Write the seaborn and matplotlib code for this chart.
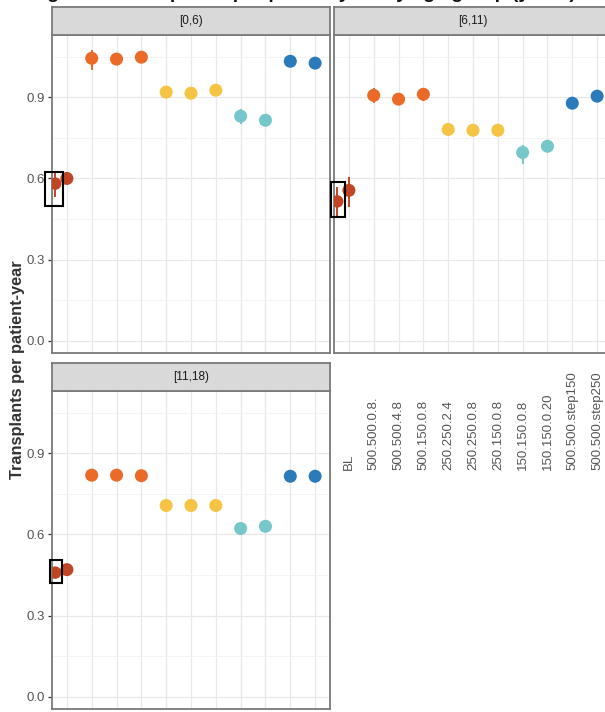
import numpy as np
import pandas as pd
import matplotlib
matplotlib.use("Agg")
import matplotlib.pyplot as plt
from matplotlib.patches import Rectangle
import seaborn as sns

# ---- data -------------------------------------------------------------
scenarios = ["BL", "500.500.0.8.", "500.500.4.8", "500.150.0.8", "250.250.2.4",
             "250.250.0.8", "250.150.0.8", "150.150.0.8", "150.150.0.20",
             "500.500.step150", "500.500.step250"]
scenario_group = ["BL", "A", "A", "A", "B", "B", "B", "C", "C", "D", "D"]
age_groups = ["[0,6)", "[6,11)", "[11,18)"]

rate_0_6 = [0.600, 1.044, 1.041, 1.048, 0.919, 0.915, 0.926, 0.830, 0.815, 1.033, 1.026]
lo_0_6 = [0.580, 1.000, 1.030, 1.035, 0.905, 0.900, 0.905, 0.800, 0.800, 1.025, 1.018]
hi_0_6 = [0.620, 1.075, 1.055, 1.060, 0.930, 0.930, 0.945, 0.855, 0.830, 1.040, 1.034]

rate_6_11 = [0.556, 0.907, 0.893, 0.911, 0.781, 0.778, 0.778, 0.696, 0.719, 0.878, 0.904]
lo_6_11 = [0.493, 0.880, 0.870, 0.885, 0.765, 0.755, 0.760, 0.655, 0.700, 0.870, 0.895]
hi_6_11 = [0.607, 0.935, 0.915, 0.930, 0.800, 0.800, 0.800, 0.725, 0.740, 0.890, 0.915]

rate_11_18 = [0.470, 0.819, 0.819, 0.817, 0.707, 0.707, 0.707, 0.622, 0.630, 0.815, 0.815]
lo_11_18 = [0.460, 0.810, 0.810, 0.808, 0.698, 0.698, 0.698, 0.612, 0.620, 0.806, 0.806]
hi_11_18 = [0.480, 0.828, 0.828, 0.826, 0.716, 0.716, 0.716, 0.632, 0.640, 0.824, 0.824]

# observed baseline rate per age group (drawn just left of BL)
observed_rate = [0.581, 0.515, 0.459]
observed_lo = [0.530, 0.463, 0.445]
observed_hi = [0.620, 0.570, 0.475]

palette = {"BL": "#BF4524", "A": "#EC6A27", "B": "#F6C445",
           "C": "#76C7CA", "D": "#2B7BBA"}
observed_color = "#BF4524"

panel_rates = [rate_0_6, rate_6_11, rate_11_18]
panel_lo = [lo_0_6, lo_6_11, lo_11_18]
panel_hi = [hi_0_6, hi_6_11, hi_11_18]

frames = []
for g, r, lo, hi in zip(age_groups, panel_rates, panel_lo, panel_hi):
    frames.append(pd.DataFrame({"age": g, "scenario": scenarios,
                                "group": scenario_group,
                                "pos": np.arange(len(scenarios)),
                                "rate": r, "lo": lo, "hi": hi}))
df = pd.concat(frames, ignore_index=True)

obs = pd.DataFrame({"age": age_groups, "pos": -0.47, "rate": observed_rate,
                    "lo": observed_lo, "hi": observed_hi})

# ---- layout -------------------------------------------------------------
sns.set_theme(style="white")
plt.rcParams["font.family"] = ["Liberation Sans", "DejaVu Sans"]

W, H = 605, 712
fig = plt.figure(figsize=(W / 100, H / 100), dpi=100)
fig.patch.set_facecolor("white")


def px_axes(x0, y0, x1, y1):
    return fig.add_axes([x0 / W, 1 - y1 / H, (x1 - x0) / W, (y1 - y0) / H])


panel_px = [(52, 35, 330, 353), (334, 35, 612, 353), (52, 391, 330, 709)]
strip_px = [(52, 7, 330, 35), (334, 7, 612, 35), (52, 363, 330, 391)]
box_coords = [(-0.88, 0.500, 0.72, 0.122),
              (-0.72, 0.459, 0.56, 0.126),
              (-0.68, 0.419, 0.48, 0.085)]

border = "#7A7A7A"
for i, age in enumerate(age_groups):
    ax = px_axes(*panel_px[i])
    sub = df[df["age"] == age]
    o = obs[obs["age"] == age]

    ax.vlines(sub["pos"], sub["lo"], sub["hi"],
              colors=[palette[g] for g in sub["group"]], lw=1.4, zorder=2)
    ax.vlines(o["pos"], o["lo"], o["hi"], colors=observed_color, lw=1.4, zorder=2)
    sns.scatterplot(data=sub, x="pos", y="rate", hue="group", palette=palette,
                    s=88, edgecolor="none", legend=False, ax=ax, zorder=3)
    sns.scatterplot(data=o, x="pos", y="rate", color=observed_color,
                    s=80, edgecolor="none", legend=False, ax=ax, zorder=3)

    bx, by, bw, bh = box_coords[i]
    ax.add_patch(Rectangle((bx, by), bw, bh, fill=False, ec="black", lw=1.5,
                           clip_on=False, zorder=5))

    ax.set_xlim(-0.6, len(scenarios) - 0.4)
    ax.set_ylim(-0.045, 1.13)
    ax.set_xticks(range(len(scenarios)))
    ax.set_yticks([0.0, 0.3, 0.6, 0.9])
    ax.set_yticks([0.15, 0.45, 0.75, 1.05], minor=True)
    ax.grid(True, which="major", color="#E8E8E8", lw=0.9)
    ax.grid(True, which="minor", axis="y", color="#F2F2F2", lw=0.6)
    ax.set_axisbelow(True)
    ax.set_xlabel("")
    ax.set_ylabel("")
    for sp in ax.spines.values():
        sp.set_color(border)
        sp.set_linewidth(1.3)

    ax.tick_params(axis="y", which="major", length=3, width=0.9, color="#333333",
                   labelsize=9.5, labelcolor="#555555", pad=2, left=(i != 1),
                   labelleft=(i != 1))
    ax.tick_params(axis="y", which="minor", length=0)
    if i == 0:
        ax.tick_params(axis="x", length=0, labelbottom=False)
    elif i == 1:
        ax.set_xticklabels(scenarios, rotation=90, va="bottom", ha="center")
        ax.tick_params(axis="x", length=3, width=0.9, color="#333333",
                       labelsize=9.5, labelcolor="#555555", pad=81)
    else:
        ax.tick_params(axis="x", length=3, width=0.9, color="#333333",
                       labelbottom=False)

    sx = px_axes(*strip_px[i])
    sx.set_facecolor("#D9D9D9")
    sx.set_xticks([])
    sx.set_yticks([])
    for sp in sx.spines.values():
        sp.set_color(border)
        sp.set_linewidth(1.3)
    sx.text(0.5, 0.5, age, ha="center", va="center", fontsize=8.5,
            color="#1A1A1A", transform=sx.transAxes)

fig.text(18 / W, 1 - 370 / H, "Transplants per patient-year", rotation=90,
         ha="center", va="center", fontsize=11.8, fontweight="bold", color="#333333")

fig.text(0.50, 1 + 2.5 / H, "Figure 3: Transplants per patient-year by age group (years)",
         ha="center", va="baseline", fontsize=14, fontweight="bold", color="#111111")

fig.savefig("out.png", dpi=100, facecolor="white")
